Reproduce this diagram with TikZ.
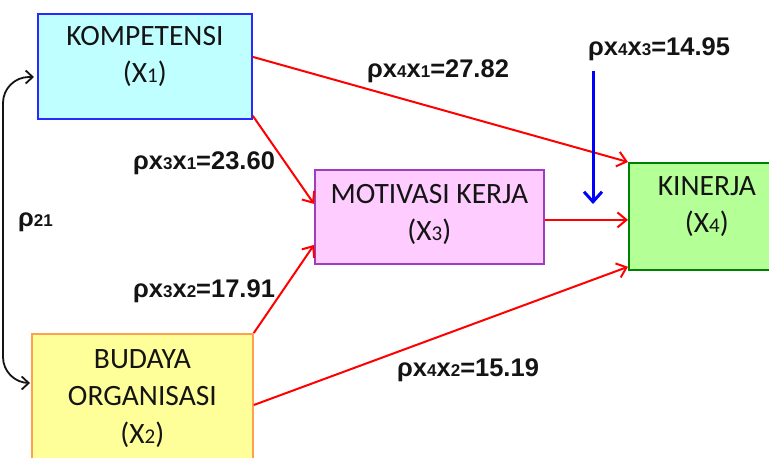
\documentclass[tikz,border=0pt]{standalone}
\usepackage{fontspec}
\setmainfont{Carlito}
\newfontfamily\lblfont{Liberation Sans}
\usetikzlibrary{arrows.meta}
\definecolor{cyanfill}{RGB}{192,255,255}
\definecolor{cyanline}{RGB}{40,40,255}
\definecolor{pinkfill}{RGB}{255,204,255}
\definecolor{pinkline}{RGB}{160,60,190}
\definecolor{greenfill}{RGB}{180,255,150}
\definecolor{greenline}{RGB}{0,128,0}
\definecolor{yelfill}{RGB}{255,255,153}
\definecolor{yelline}{RGB}{255,160,80}
\definecolor{txt}{RGB}{20,20,20}
\definecolor{redarr}{RGB}{255,0,0}
\definecolor{bluearr}{RGB}{0,0,255}
\tikzset{
  varbox/.style={draw, line width=1.8pt, inner sep=0pt, anchor=north west},
  boxtext/.style={anchor=north, inner sep=0pt, align=center, text=txt,
    font=\fontsize{29.5}{37.5}\selectfont},
  coef/.style={anchor=base west, inner sep=0pt, text=txt,
    font=\lblfont\bfseries\fontsize{25.5}{30}\selectfont},
  path/.style={draw=redarr, line width=2pt, -{Straight Barb[length=9pt,width=15pt,line width=2pt]}},
}
\newcommand{\sm}[1]{{\fontsize{17}{20}\selectfont #1}}
\newcommand{\bs}[1]{{\fontsize{21}{20}\selectfont #1}}
\begin{document}
\begin{tikzpicture}[x=1pt,y=-1pt]
\useasboundingbox (0,0) rectangle (769,458);
% boxes
\node[varbox, fill=cyanfill, draw=cyanline, minimum width=214pt, minimum height=105pt] (k) at (37,13) {};
\node[varbox, fill=yelfill, draw=yelline, minimum width=221pt, minimum height=140pt] (b) at (31,333) {};
\node[varbox, fill=pinkfill, draw=pinkline, minimum width=229pt, minimum height=94pt] (m) at (314,169) {};
\node[varbox, fill=greenfill, draw=greenline, minimum width=156pt, minimum height=107pt] (kin) at (628,162) {};
% box texts
\node[boxtext] (kt) at ([yshift=-13pt]k.north) {KOMPETENSI\\(X\bs{1})};
\node[boxtext] (bt) at ([yshift=-16pt]b.north) {BUDAYA\\ORGANISASI\\(X\bs{2})};
\node[boxtext] (mt) at ([yshift=-15pt]m.north) {MOTIVASI KERJA\\(X\bs{3})};
\node[boxtext] (kint) at ([yshift=-14pt]kin.north) {KINERJA\\(X\bs{4})};
% red paths
\draw[path] ([yshift=9.5pt]k.east) -- (kin.north west);
\draw[path] ([yshift=4pt]k.south east) -- ([yshift=13pt]m.west);
\draw[path] (b.north east) -- ([yshift=-28pt]m.west);
\draw[path] ([yshift=-72pt]b.north east) -- ([yshift=4pt]kin.south west);
\draw[path] ([yshift=-3pt]m.east) -- ([yshift=-3pt]m.east -| kin.west);
% blue arrow
\coordinate (bs) at (593,71);
\coordinate (be) at (593,204);
\draw[draw=bluearr, line width=3pt, -{Straight Barb[length=10pt,width=18pt,line width=3pt]}] (bs) -- (be);
% correlation
\coordinate (c1) at (3,77);
\coordinate (c2) at (3,383);
\draw[line width=1.8pt, txt, rounded corners=26pt, {Straight Barb[length=7pt,width=13pt,line width=1.8pt]}-{Straight Barb[length=7pt,width=13pt,line width=1.8pt]}]
  ([xshift=-3pt]k.west |- c1) -- (c1) -- (c2) -- ([xshift=-1pt]b.west |- c2);
% coefficients
\node[coef] (l41) at (367,77) {ρx\sm{4}x\sm{1}=27.82};
\node[coef] (l43) at (588,55) {ρx\sm{4}x\sm{3}=14.95};
\node[coef] (l31) at (133,169) {ρx\sm{3}x\sm{1}=23.60};
\node[coef] (l21) at (18,226) {ρ\sm{21}};
\node[coef] (l32) at (133,297) {ρx\sm{3}x\sm{2}=17.91};
\node[coef] (l42) at (397,376) {ρx\sm{4}x\sm{2}=15.19};
\end{tikzpicture}
\end{document}
